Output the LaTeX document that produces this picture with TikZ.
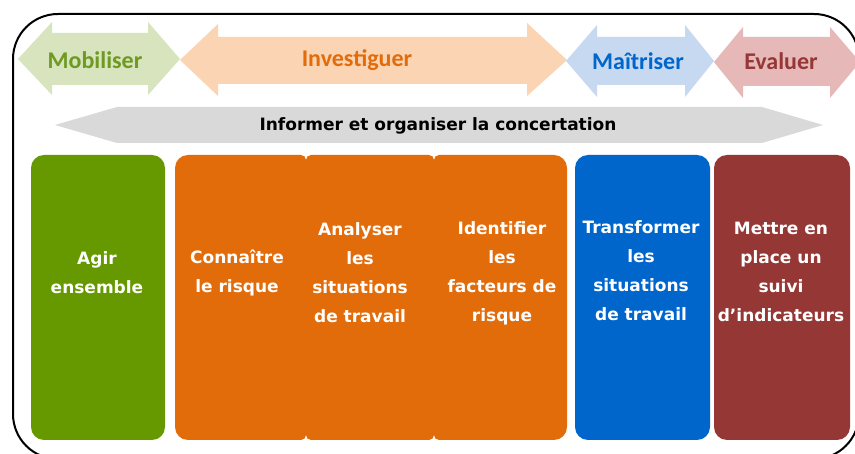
\documentclass[tikz,border=0pt]{standalone}
\usepackage{fontspec}
\setmainfont{DejaVu Sans}
\newfontfamily\carl{Carlito}
\definecolor{gbox}{HTML}{669900}
\definecolor{obox}{HTML}{E36C0A}
\definecolor{bbox}{HTML}{0066CC}
\definecolor{rbox}{HTML}{953735}
\definecolor{gfill}{HTML}{D7E4BD}
\definecolor{gtext}{HTML}{6E9A22}
\definecolor{ofill}{HTML}{FBD4B4}
\definecolor{bfill}{HTML}{C6D9F1}
\definecolor{rfill}{HTML}{E6B9B8}
\definecolor{grayarrow}{HTML}{D9D9D9}
\tikzset{
  toplabel/.style={font=\carl\bfseries\fontsize{24}{26}\selectfont, inner sep=0pt},
  boxtext/.style={font=\bfseries\fontsize{17}{29}\selectfont, text=white, align=center, inner sep=0pt},
  stagebox/.style={rounded corners=13pt, draw=none, inner sep=0pt},
}
\begin{document}
\begin{tikzpicture}[x=1pt,y=-1pt]
\clip (0,0) rectangle (855,454);
\fill[white] (0,0) rectangle (855,454);
% outer frame
\draw[line width=2pt, rounded corners=45pt] (13,14) rectangle (859,459);
% top double arrows
\fill[gfill] (18,59) -- (52,22) -- (52,33) -- (148,33) -- (148,22) -- (180,59) -- (148,95) -- (148,85) -- (52,85) -- (52,95) -- cycle;
\fill[ofill] (180,60) -- (218,24) -- (218,37) -- (527,37) -- (527,23) -- (567,60) -- (527,96) -- (527,84) -- (218,84) -- (218,96) -- cycle;
\fill[bfill] (566,61) -- (597,25) -- (597,37) -- (685,37) -- (685,25) -- (714,61) -- (685,97) -- (685,85) -- (597,85) -- (597,97) -- cycle;
\fill[rfill] (714,62) -- (743,27) -- (743,37) -- (830,37) -- (830,27) -- (860,62) -- (830,98) -- (830,86) -- (743,86) -- (743,98) -- cycle;
\node[toplabel, text=gtext] (mob) at (95,60) {Mobiliser};
\node[toplabel, text=obox] (inv) at (357,60) {Investiguer};
\node[toplabel, text=bbox] (mai) at (638,61) {Maîtriser};
\node[toplabel, text=rbox] (eva) at (781,61) {Evaluer};
% gray arrow
\fill[grayarrow] (55,125) -- (117,107) -- (762,107) -- (823,125) -- (762,143) -- (117,143) -- cycle;
\node[font=\bfseries\fontsize{17}{18}\selectfont, inner sep=0pt] (inf) at (438,126) {Informer et organiser la concertation};
% boxes
\node[stagebox, fill=gbox, minimum width=134pt, minimum height=285pt] (b1) at (98,297.5) {};
\fill[obox] (175,297) [rounded corners=13pt] -- (175,155) [rounded corners=5pt] -- (306,155) -- (306,440) [rounded corners=13pt] -- (175,440) -- cycle;
\fill[obox] (306,297) [rounded corners=5pt] -- (306,155) -- (434,155) -- (434,440) -- (306,440) -- cycle;
\fill[obox] (434,297) [rounded corners=5pt] -- (434,155) [rounded corners=13pt] -- (567,155) -- (567,440) [rounded corners=5pt] -- (434,440) -- cycle;
\node[stagebox, fill=bbox, minimum width=135pt, minimum height=285pt] (b5) at (642.5,297.5) {};
\node[stagebox, fill=rbox, minimum width=136pt, minimum height=285pt] (b6) at (782,297.5) {};
% box texts
\node[boxtext] (t1) at (97,273) {Agir\\ensemble};
\node[boxtext] (t2) at (237,273) {Connaître\\le risque};
\node[boxtext] (t3) at (360,273) {Analyser\\les\\situations\\de travail};
\node[boxtext] (t4) at (502,273) {Identifier\\les\\facteurs de\\risque};
\node[boxtext] (t5) at (641,271) {Transformer\\les\\situations\\de travail};
\node[boxtext] (t6) at (781,272) {Mettre en\\place un\\suivi\\d’indicateurs};
\end{tikzpicture}
\end{document}
